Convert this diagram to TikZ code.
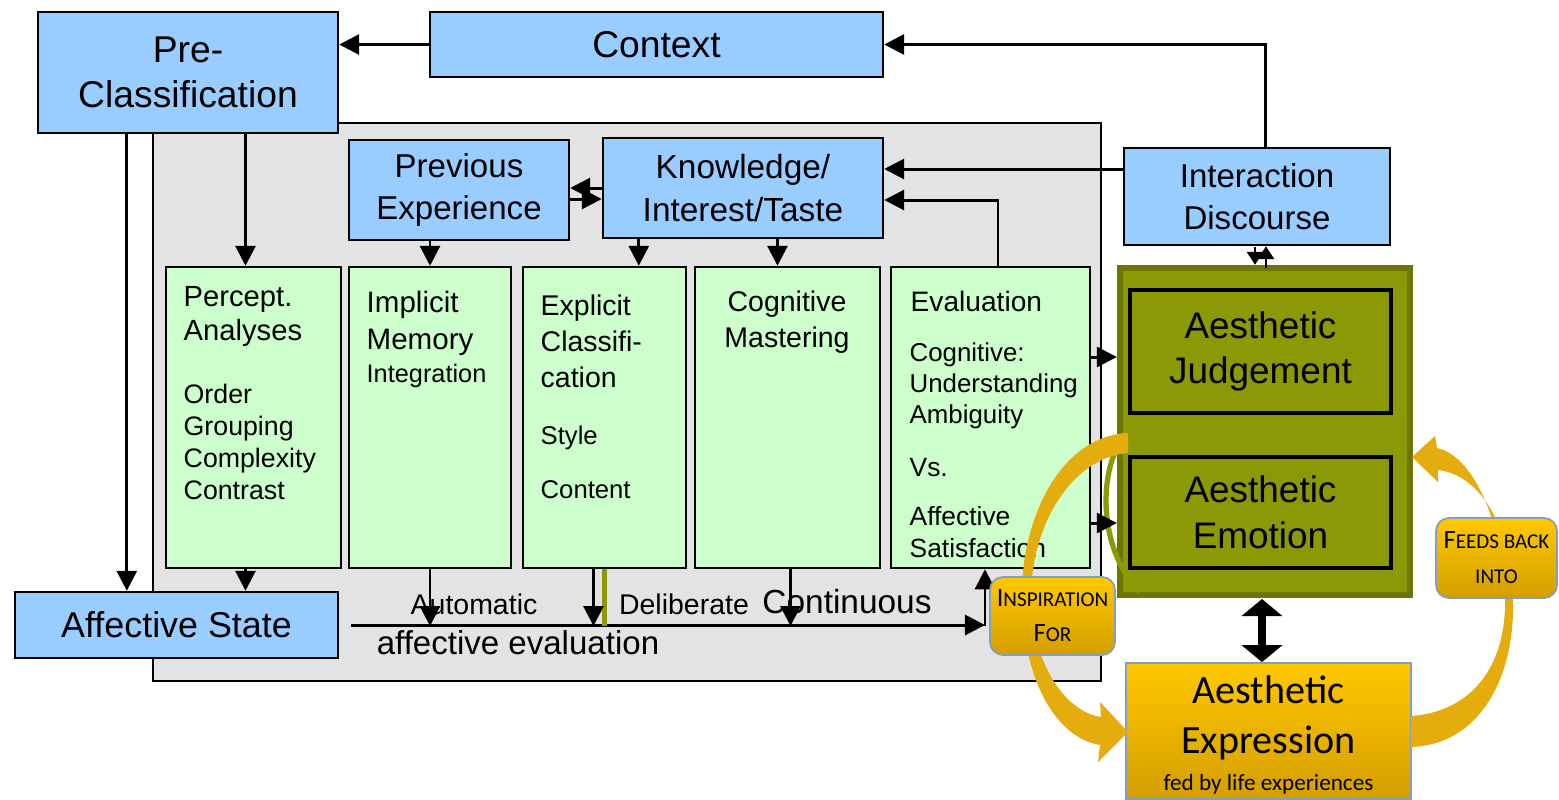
\documentclass[tikz,border=0pt]{standalone}
\usepackage{fontspec}
\setmainfont{Liberation Sans}
\newfontfamily\calibfont{Carlito}
\usepackage{tikz}
\usetikzlibrary{arrows.meta}
\usetikzlibrary{positioning}
\usetikzlibrary{fit}
\usetikzlibrary{calc}

\definecolor{boxblue}{RGB}{153,204,255}
\definecolor{boxgreen}{RGB}{204,255,204}
\definecolor{panelgray}{RGB}{227,227,227}
\definecolor{olivefill}{RGB}{140,153,6}
\definecolor{olivedark}{RGB}{108,118,0}
\definecolor{goldtop}{RGB}{255,200,0}
\definecolor{goldbot}{RGB}{212,158,0}
\definecolor{goldarrow}{RGB}{228,172,12}
\definecolor{edgeblue}{RGB}{130,160,190}

\newcommand{\fs}[2]{\fontsize{#1}{#2}\selectfont}

\begin{document}
\begin{tikzpicture}[x=0.01cm,y=-0.01cm,
    box/.style={draw=black,line width=0.7pt,inner sep=0pt},
    bluebox/.style={box,fill=boxblue},
    greenbox/.style={box,fill=boxgreen},
    olivebox/.style={box,fill=olivefill,line width=0.9pt},
    tagbox/.style={draw=edgeblue,line width=0.5pt,rounded corners=0.13cm,top color=goldtop,bottom color=goldbot,inner sep=0pt},
    txt/.style={inner sep=0pt,align=center},
    lbl/.style={inner sep=0pt,anchor=north west,align=left},
    arr/.style={draw=black,line width=0.85pt,-{Triangle[length=0.2cm,width=0.2cm]}},
    arrsmall/.style={draw=black,line width=0.8pt,-{Triangle[length=0.13cm,width=0.16cm]}},
    bigarr/.style={draw=black,line width=2.4pt,{Triangle[length=0.17cm,width=0.4cm]}-{Triangle[length=0.17cm,width=0.4cm]}}]
  \fill[white] (0,0) rectangle (1559,799);
  \useasboundingbox (0,0) rectangle (1559,799);

  % grey frame and blue boxes
  \node[box,fill=panelgray,line width=0.6pt,fit={(153,123) (1101,681)}] (panel) {};
  \node[bluebox,fit={(38,12) (338,133)}] (pre) {};
  \node[bluebox,fit={(430,12) (883,77)}] (context) {};
  \node[bluebox,fit={(349,140) (569,240)}] (prev) {};
  \node[bluebox,fit={(603,138) (883,238)}] (know) {};
  \node[bluebox,fit={(1124,148) (1390,245)}] (inter) {};
  \node[bluebox,fit={(15,592) (338,658)}] (affst) {};
  \node[txt,font=\fs{10.6}{12.8}] (preT) at (pre) {Pre-\\Classification};
  \node[txt,font=\fs{10.6}{12.8}] (contextT) at (context) {Context};
  \node[txt,font=\fs{9.4}{12}] (prevT) at (prev) {Previous\\Experience};
  \node[txt,font=\fs{9.5}{12}] (knowT) at (know) {Knowledge/\\Interest/Taste};
  \node[txt,font=\fs{9.4}{12}] (interT) at (inter) {Interaction\\Discourse};
  \node[txt,font=\fs{10.2}{12}] (affstT) at (affst) {Affective State};

  % processing stages
  \begin{scope}[every node/.style={greenbox}]
    \node[fit={(166,267) (341,568)}] (perc) {};
    \node[fit={(349,267) (511,568)}] (impl) {};
    \node[fit={(523,267) (686,568)}] (expl) {};
    \node[fit={(695,267) (880,568)}] (cog) {};
    \node[fit={(891,267) (1090,568)}] (eval) {};
  \end{scope}
  \node[lbl,font=\fs{8.3}{9.7}] (percT) at (183,286) {Percept.\\Analyses};
  \node[lbl,font=\fs{7.6}{9.1}] (percS) at (183,383) {Order\\Grouping\\Complexity\\Contrast};
  \node[lbl,font=\fs{8.4}{10.5}] (implT) at (366,290) {Implicit\\Memory\\[-1pt]{\fs{7.2}{9}Integration}};
  \node[lbl,font=\fs{8.1}{10.2}] (explT) at (540,294) {Explicit\\Classifi-\\cation};
  \node[lbl,font=\fs{7.3}{15.4}] (explS) at (540,425) {Style\\Content};
  \node[inner sep=0pt,anchor=north,align=center,font=\fs{8.1}{10.2}] (cogT) at (787,290) {Cognitive\\Mastering};
  \node[lbl,font=\fs{8}{9}] (evalT) at (910,290) {Evaluation};
  \node[lbl,font=\fs{7.35}{8.8}] (evalC) at (909,342) {Cognitive:\\Understanding\\Ambiguity};
  \node[lbl,font=\fs{7.5}{9}] (evalV) at (909,458) {Vs.};
  \node[lbl,font=\fs{7.5}{9.1}] (evalA) at (909,506) {Affective\\Satisfaction};

  % time line labels
  \node[inner sep=0pt,font=\fs{8.1}{10}] (autom) at (474,604) {Automatic};
  \node[inner sep=0pt,font=\fs{8.1}{10}] (delib) at (684,604) {Deliberate};
  \node[inner sep=0pt,font=\fs{9.5}{11}] (contin) at (847,602) {Continuous};
  \node[inner sep=0pt,font=\fs{9.4}{11}] (affev) at (518,643) {affective evaluation};
  \coordinate (tend) at (985,626);

  % connectors
  \draw[arr] (context.west) -- (context.west -| pre.east);
  \draw[arr] ([xshift=0.08cm]inter.north) |- (context.east);
  \draw[arr] (inter.west |- 0,169) -- (know.east |- 0,169);
  \draw[arr] (eval.north -| 998,0) |- (know.east |- 0,200);
  \draw[arr] (know.west |- 0,188) -- (prev.east |- 0,188);
  \draw[arr] (prev.east |- 0,199) -- (know.west |- 0,199);
  \draw[arr] ([xshift=-0.08cm]perc.north |- pre.south) -- ([xshift=-0.08cm]perc.north);
  \draw[arr] ([xshift=0.9cm]pre.south west) -- ([xshift=0.9cm]pre.south west |- affst.north);
  \draw[arr] (impl.north |- prev.south) -- (impl.north);
  \draw[arr] ([xshift=0.37cm]know.south west) -- ([xshift=0.37cm]know.south west |- expl.north);
  \draw[arr] ([xshift=-0.1cm]cog.north |- know.south) -- ([xshift=-0.1cm]cog.north);
  \draw[arr] ([xshift=-0.08cm]perc.south) -- ([xshift=-0.08cm]perc.south |- affst.north);
  \draw[arr] ([xshift=0.12cm]affst.east) -- (affst.east -| tend);
  \draw[arr] (tend) -- (tend |- eval.south);
  \draw[arr] (impl.south) -- (impl.south |- tend);
  \draw[olivefill,line width=1.3pt] (expl.south) -- (expl.south |- tend);
  \draw[arr] ([xshift=-0.11cm]expl.south) -- ([xshift=-0.11cm]expl.south |- tend);
  \draw[arr] ([xshift=0.03cm]cog.south) -- ([xshift=0.03cm]cog.south |- tend);

  % aesthetic block
  \node[box,fill=olivefill,draw=olivedark,line width=1.8pt,fit={(1120,268) (1410,595)}] (olive) {};
  \node[olivebox,fit={(1130,290) (1391,413)}] (judge) {};
  \node[olivebox,fit={(1130,457) (1391,568)}] (emo) {};
  \node[txt,font=\fs{10.5}{13}] (judgeT) at (judge) {Aesthetic\\Judgement};
  \node[txt,font=\fs{10.5}{13}] (emoT) at (emo) {Aesthetic\\Emotion};
  \node[box,draw=edgeblue,line width=0.5pt,top color=goldtop,bottom color=goldbot,fit={(1126,663) (1411,799)}] (expr) {};
  \node[txt,font=\calibfont\fs{11.4}{14.2}] (exprT) at ([yshift=-0.04cm]expr) {Aesthetic\\Expression\\[-3.7pt]{\fs{6.6}{8}fed by life experiences}};

  % curved gold arrows
  \draw[olivefill,line width=1.5pt] (1130,428) .. controls (1097,462) and (1096,548) .. (1140,592);
  \draw[arr] (eval.east |- 0,357) -- (olive.west |- 0,357);
  \draw[arr] (eval.east |- 0,523) -- (olive.west |- 0,523);
  \coordinate (downA) at (1255,247);
  \coordinate (upA) at (1266,268);
  \draw[arrsmall] (downA) -- (downA |- olive.north);
  \draw[arrsmall] (upA) -- (upA |- inter.south);
  \coordinate (bigtop) at (1262,599);
  \draw[bigarr] (bigtop) -- (bigtop |- expr.north);
  \fill[goldarrow] (1128,433) .. controls (1060,436) and (1020,520) .. (1022,600)
    .. controls (1024,685) and (1058,738) .. (1100,745) -- (1098,762) -- (1128,732) -- (1100,702) -- (1101,717)
    .. controls (1068,712) and (1034,670) .. (1031,600) .. controls (1030,528) and (1070,458) .. (1128,453) -- cycle;
  \fill[goldarrow] (1411,747) .. controls (1478,745) and (1515,680) .. (1513,600)
    .. controls (1511,525) and (1480,475) .. (1438,470) -- (1438,482) -- (1412,457) -- (1435,436) -- (1437,448)
    .. controls (1472,455) and (1503,520) .. (1505,600) .. controls (1506,668) and (1470,712) .. (1411,716) -- cycle;
  \node[tagbox,fit={(990,577) (1115,655)}] (insp) {};
  \node[tagbox,fit={(1436,518) (1557,598)}] (feeds) {};
  \node[txt,font=\calibfont\fs{6}{10}] (inspT) at (insp) {{\fs{7.5}{10}I}NSPIRATION\\{\fs{7.5}{10}F}OR};
  \node[txt,font=\calibfont\fs{6}{10}] (feedsT) at (feeds) {{\fs{7.5}{10}F}EEDS BACK\\INTO};
\end{tikzpicture}
\end{document}
